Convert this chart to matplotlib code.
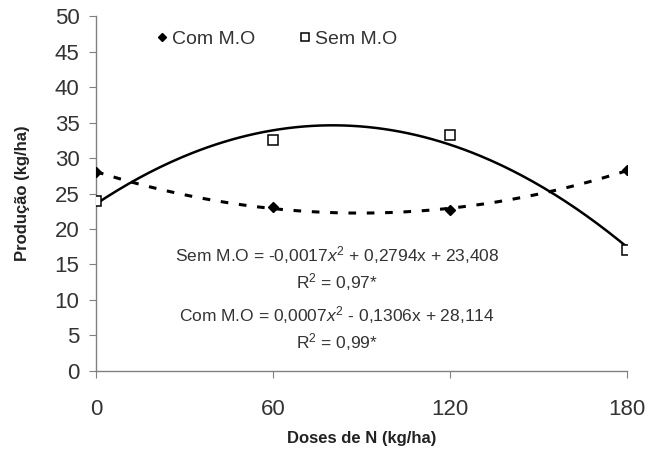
import matplotlib.pyplot as plt
import numpy as np

plt.rcParams['font.family'] = ['Liberation Sans', 'DejaVu Sans']
plt.rcParams['mathtext.fontset'] = 'custom'
plt.rcParams['mathtext.rm'] = 'Liberation Sans'
plt.rcParams['mathtext.it'] = 'Liberation Sans:italic'

# Dados
doses = [0, 60, 120, 180]
com_mo = [28.0, 23.1, 22.7, 28.3]
sem_mo = [24.0, 32.5, 33.3, 17.0]

eq_sem = 'Sem M.O = -0,0017$x^2$ + 0,2794x + 23,408'
r2_sem = 'R$^2$ = 0,97*'
eq_com = 'Com M.O = 0,0007$x^2$ - 0,1306x + 28,114'
r2_com = 'R$^2$ = 0,99*'

fig = plt.figure(figsize=(6.49, 4.49), dpi=100)
ax = fig.add_axes([0.148, 0.174, 0.818, 0.79])

# Curvas de tendência (polinômio de 2º grau ajustado aos dados)
xx = np.linspace(0, 180, 200)
p_sem = np.polyfit(doses, sem_mo, 2)
p_com = np.polyfit(doses, com_mo, 2)
ax.plot(xx, np.polyval(p_sem, xx), color='black', lw=1.8, zorder=2)
ax.plot(xx, np.polyval(p_com, xx), color='black', lw=2.2,
        dashes=(2.5, 3.5), zorder=2)

ax.plot(doses, com_mo, 'D', color='black', ms=5.5, ls='none',
        label='Com M.O', zorder=3)
ax.plot(doses, sem_mo, 's', mfc='white', mec='black', mew=1.1, ms=6.5,
        ls='none', label='Sem M.O', zorder=3)

ax.set_xlim(0, 180)
ax.set_ylim(0, 50)
ax.set_xticks([0, 60, 120, 180])
ax.set_yticks(range(0, 51, 5))

for s in ['top', 'right']:
    ax.spines[s].set_visible(False)
for s in ['left', 'bottom']:
    ax.spines[s].set_color('#808080')
    ax.spines[s].set_linewidth(1.0)
ax.spines['bottom'].set_zorder(1)
ax.tick_params(axis='both', colors='#808080', labelcolor='#333333',
               labelsize=16, length=5, direction='out')
ax.tick_params(axis='x', pad=15)
ax.tick_params(axis='y', pad=7)

ax.set_xlabel('Doses de N (kg/ha)', fontsize=12, fontweight='bold',
              color='#222222', labelpad=8)
ax.set_ylabel('Produção (kg/ha)', fontsize=12, fontweight='bold',
              color='#222222', labelpad=18)

txt = dict(ha='center', va='center', fontsize=12.5, color='#333333',
           transform=ax.transAxes)
ax.text(0.454, 0.327, eq_sem, **txt)
ax.text(0.454, 0.25, r2_sem, **txt)
ax.text(0.454, 0.158, eq_com, **txt)
ax.text(0.454, 0.082, r2_com, **txt)

leg = ax.legend(loc='upper left', bbox_to_anchor=(0.08, 1.01), ncol=2,
                frameon=False, fontsize=14, handlelength=0.6,
                handletextpad=0.2, columnspacing=2.3, markerscale=0.8)
for t in leg.get_texts():
    t.set_color('#333333')

plt.savefig('out.png', dpi=100)
